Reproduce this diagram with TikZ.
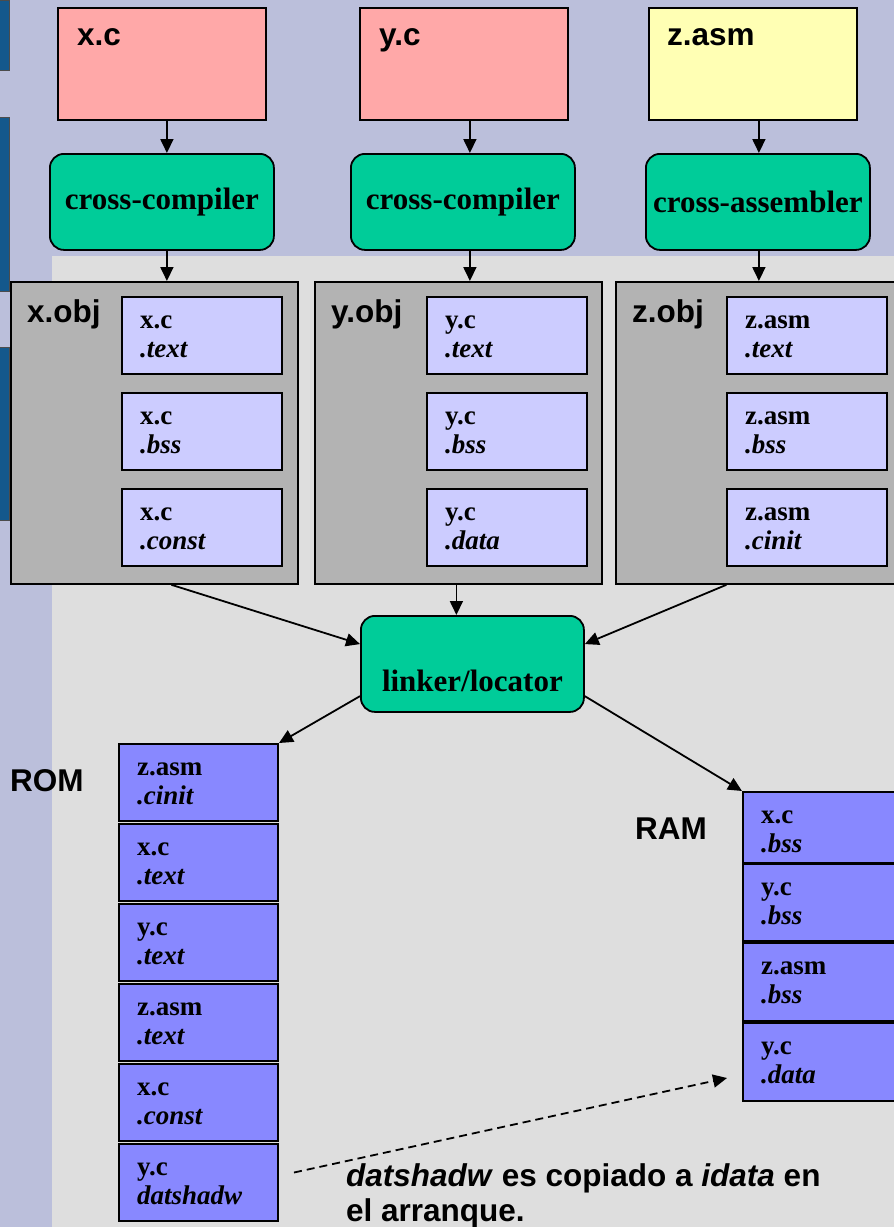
\documentclass[tikz,border=0pt]{standalone}
\usepackage{fontspec}
\setmainfont{Liberation Serif}
\setsansfont{Liberation Sans}
\usetikzlibrary{arrows.meta,calc}

\definecolor{bglav}{RGB}{187,191,219}
\definecolor{areagray}{RGB}{222,222,222}
\definecolor{barblue}{RGB}{20,88,140}
\definecolor{srcpink}{RGB}{255,168,168}
\definecolor{srcyellow}{RGB}{255,255,180}
\definecolor{toolgreen}{RGB}{0,204,153}
\definecolor{objgray}{RGB}{179,179,179}
\definecolor{seclight}{RGB}{204,204,255}
\definecolor{secdark}{RGB}{136,136,255}

\newcommand\tagfont{\sffamily\bfseries\fontsize{31.5}{36}\selectfont}
\newcommand\toolfont{\rmfamily\bfseries\fontsize{31}{36}\selectfont}
\newcommand\secfont{\rmfamily\bfseries\fontsize{27}{29}\selectfont}

% one memory section: name, corner, width, height, fill, file, section
\newcommand\memsec[7]{%
  \node[secbox,fill=#5,minimum width=#3,minimum height=#4] (#1) at #2 {};
  \node[sectext] (#1-file) at ($(#1.north west)+(19,32)$) {#6};
  \node[sectext] (#1-sec) at ($(#1.north west)+(19,61)$) {\textit{#7}};
}

\begin{document}
\begin{tikzpicture}[x=1pt,y=-1pt,
  >={Triangle[length=14pt,width=13pt]},
  conn/.style={line width=1.8pt,->},
  srcbox/.style={draw,line width=1.8pt,anchor=north west,minimum width=208pt,minimum height=112pt,inner sep=0pt},
  toolbox/.style={draw,line width=1.8pt,fill=toolgreen,rounded corners=14pt,anchor=north west,minimum width=224pt,minimum height=96pt,inner sep=0pt,font=\toolfont},
  objbox/.style={draw,line width=1.8pt,fill=objgray,anchor=north west,minimum width=287pt,minimum height=302pt,inner sep=0pt},
  secbox/.style={draw,line width=2pt,anchor=north west,inner sep=0pt},
  sectext/.style={anchor=base west,inner sep=0pt,font=\secfont},
  tag/.style={anchor=base west,inner sep=0pt,font=\tagfont},
]
\useasboundingbox (0,0) rectangle (894,1227);

% backgrounds
\fill[bglav] (0,0) rectangle (894,1227);
\fill[areagray] (52,256) rectangle (894,1227);
\foreach \ya/\yb in {0/70,117/291,347/520}
  \filldraw[fill=barblue,draw=black!70,line width=0.8pt] (-2,\ya) rectangle (9,\yb);

% source files
\node[srcbox,fill=srcpink] (xsrc) at (57,7) {};
\node[srcbox,fill=srcpink] (ysrc) at (359,7) {};
\node[srcbox,fill=srcyellow] (zsrc) at (648,7) {};
\node[tag] (xsrc-l) at ($(xsrc.north west)+(20,38)$) {x.c};
\node[tag] (ysrc-l) at ($(ysrc.north west)+(20,38)$) {y.c};
\node[tag] (zsrc-l) at ($(zsrc.north west)+(19,38)$) {z.asm};

% translators
\node[toolbox] (xcc) at (49,153) {cross-compiler};
\node[toolbox] (ycc) at (350,153) {cross-compiler};
\node[toolbox] (zas) at (645,153) {cross-assembler};

% object files
\node[objbox] (xobj) at (10,281) {};
\node[objbox] (yobj) at (314,281) {};
\node[objbox] (zobj) at (615,281) {};
\node[tag] (xobj-l) at ($(xobj.north west)+(17,41)$) {x.obj};
\node[tag] (yobj-l) at ($(yobj.north west)+(17,41)$) {y.obj};
\node[tag] (zobj-l) at ($(zobj.north west)+(17,41)$) {z.obj};

\memsec{xo1}{(121,296)}{160pt}{77pt}{seclight}{x.c}{.text}
\memsec{xo2}{(121,392)}{160pt}{77pt}{seclight}{x.c}{.bss}
\memsec{xo3}{(121,488)}{160pt}{77pt}{seclight}{x.c}{.const}
\memsec{yo1}{(426,296)}{160pt}{77pt}{seclight}{y.c}{.text}
\memsec{yo2}{(426,392)}{160pt}{77pt}{seclight}{y.c}{.bss}
\memsec{yo3}{(426,488)}{160pt}{77pt}{seclight}{y.c}{.data}
\memsec{zo1}{(726,296)}{160pt}{77pt}{seclight}{z.asm}{.text}
\memsec{zo2}{(726,392)}{160pt}{77pt}{seclight}{z.asm}{.bss}
\memsec{zo3}{(726,488)}{160pt}{77pt}{seclight}{z.asm}{.cinit}

% linker
\node[toolbox,minimum width=223pt] (linker) at (360,615) {};
\node[inner sep=0pt,font=\toolfont] (linker-l) at ($(linker.center)+(0,17)$) {linker/locator};

% ROM image
\node[tag] (romlbl) at (10,791) {ROM};
\memsec{rom1}{(118,743)}{159pt}{77pt}{secdark}{z.asm}{.cinit}
\memsec{rom2}{(118,823)}{159pt}{77pt}{secdark}{x.c}{.text}
\memsec{rom3}{(118,903)}{159pt}{77pt}{secdark}{y.c}{.text}
\memsec{rom4}{(118,983)}{159pt}{77pt}{secdark}{z.asm}{.text}
\memsec{rom5}{(118,1063)}{159pt}{77pt}{secdark}{x.c}{.const}
\memsec{rom6}{(118,1143)}{159pt}{77pt}{secdark}{y.c}{datshadw}

% RAM image
\node[tag] (ramlbl) at (635,839) {RAM};
\memsec{ram1}{(742,791)}{160pt}{71pt}{secdark}{x.c}{.bss}
\memsec{ram2}{(742,863)}{160pt}{77pt}{secdark}{y.c}{.bss}
\memsec{ram3}{(742,942)}{160pt}{78pt}{secdark}{z.asm}{.bss}
\memsec{ram4}{(742,1022)}{160pt}{78pt}{secdark}{y.c}{.data}

% flow: sources -> translators -> objects
\coordinate (xc1) at ($(xsrc.south)+(5,0)$);
\coordinate (yc1) at ($(ysrc.south)+(6,0)$);
\coordinate (zc1) at ($(zsrc.south)+(6,0)$);
\draw[conn] (xc1) -- (xc1 |- xcc.north);
\draw[conn] (yc1) -- (yc1 |- ycc.north);
\draw[conn] (zc1) -- (zc1 |- zas.north);
\coordinate (xc2) at (xc1 |- xcc.south);
\coordinate (yc2) at (yc1 |- ycc.south);
\coordinate (zc2) at (zc1 |- zas.south);
\draw[conn] (xc2) -- (xc2 |- xobj.north);
\draw[conn] (yc2) -- (yc2 |- yobj.north);
\draw[conn] (zc2) -- (zc2 |- zobj.north);

% objects -> linker -> memories
\coordinate (yc3) at ($(yobj.south)+(-2,0)$);
\draw[conn] ($(xobj.south)+(17,0)$) -- (linker.170);
\draw[conn] (yc3) -- (yc3 |- linker.north);
\draw[conn] ($(zobj.south)+(-33,0)$) -- (linker.10);
\draw[conn] (linker.196) -- (rom1.north east);
\draw[conn] (linker.344) -- (ram1.north west);

% start-up copy of the data image
\coordinate (cpyA) at ($(rom6.east)+(15,-10)$);
\coordinate (cpyB) at ($(ram4.west)+(-15,16)$);
\draw[conn,dash pattern=on 8pt off 5pt] (cpyA) -- (cpyB);
\node[tag] (note1) at (346,1186) {\textit{datshadw} es copiado a \textit{idata} en};
\node[tag] (note2) at (346,1221) {el arranque.};
\end{tikzpicture}
\end{document}
